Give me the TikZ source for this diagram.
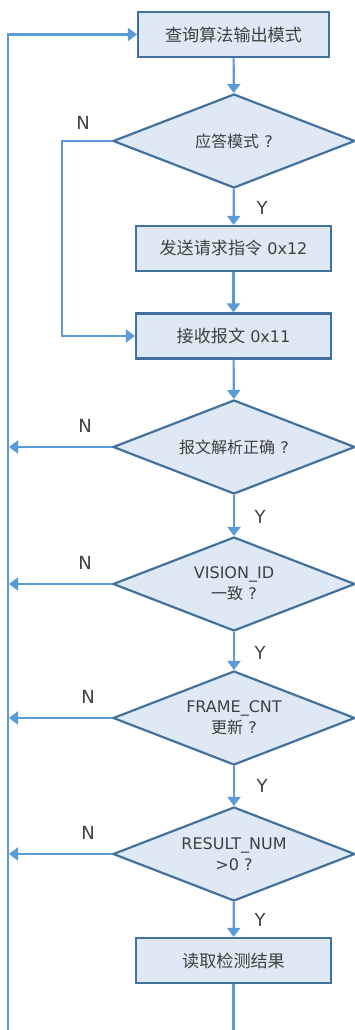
\documentclass[tikz,border=0pt]{standalone}
\usepackage{fontspec}
\setmainfont{DejaVu Sans}
\newfontfamily\cjk{Noto Sans CJK SC}
\newfontfamily\cjkb[Scale=1.07]{Noto Sans CJK SC}
\usetikzlibrary{shapes.geometric,arrows.meta}
\definecolor{boxfill}{HTML}{DEE9F5}
\definecolor{boxline}{HTML}{41719C}
\definecolor{connc}{HTML}{5B9BD5}
\definecolor{txt}{HTML}{404040}
\begin{document}
\begin{tikzpicture}[x=1pt,y=-1pt,
 stepbox/.style={rectangle,draw=boxline,fill=boxfill,line width=2.2pt,minimum width=195pt,minimum height=45pt,inner sep=0pt,text=txt,font=\fontsize{16}{19}\selectfont},
 decision/.style={diamond,aspect=2.6,draw=boxline,fill=boxfill,line width=2.2pt,minimum width=242pt,minimum height=94pt,inner sep=0pt,text=txt,font=\fontsize{16}{21}\selectfont,align=center},
 conn/.style={draw=connc,line width=2.2pt,-{Triangle[width=13pt,length=9pt]}},
 plain/.style={draw=connc,line width=2.2pt},
 lbl/.style={text=txt,font=\fontsize{18}{20}\selectfont}]
\useasboundingbox (0,0) rectangle (355,1030);
\node[stepbox,minimum width=191pt] (b1) at (233.5,34.5) {\cjkb 查询算法输出模式};
\node[decision] (d1) at (234,141) {{\cjk 应答模式} ?};
\node[stepbox] (b2) at (233.5,248.5) {{\cjkb 发送请求指令} 0x12};
\node[stepbox] (b3) at (233.5,336) {{\cjkb 接收报文} 0x11};
\node[decision] (d2) at (234,447) {{\cjk 报文解析正确} ?};
\node[decision] (d3) at (234,584) {VISION\_ID\\{\cjk 一致} ?};
\node[decision] (d4) at (234,718) {FRAME\_CNT\\{\cjk 更新} ?};
\node[decision] (d5) at (234,854) {RESULT\_NUM\\>0 ?};
\node[stepbox] (b4) at (233.5,960.5) {\cjkb 读取检测结果};
% labels
\node[lbl] (n1) at (83,123) {N};
\node[lbl] (n2) at (85,426) {N};
\node[lbl] (n3) at (85,563) {N};
\node[lbl] (n4) at (88,697) {N};
\node[lbl] (n5) at (88,833) {N};
\node[lbl] (y1) at (262,208) {Y};
\node[lbl] (y2) at (260,517) {Y};
\node[lbl] (y3) at (260,653) {Y};
\node[lbl] (y4) at (262,786) {Y};
\node[lbl] (y5) at (260,920) {Y};
% coordinates
\coordinate (nl) at (62,141);
\coordinate (lft) at (8,1032);
\coordinate (bot) at (233.5,1032);
% connectors
\draw[conn] (b1) -- (d1);
\draw[conn] (d1) -- (b2);
\draw[conn] (b2) -- (b3);
\draw[conn] (b3) -- (d2);
\draw[conn] (d2) -- (d3);
\draw[conn] (d3) -- (d4);
\draw[conn] (d4) -- (d5);
\draw[conn] (d5) -- (b4);
\draw[plain] (b4) -- (bot);
\draw[conn] (d1.west) -- (nl) |- (b3.west);
\draw[conn,shorten >=1pt] (d2.west) -- (d2.west -| lft);
\draw[conn,shorten >=1pt] (d3.west) -- (d3.west -| lft);
\draw[conn,shorten >=1pt] (d4.west) -- (d4.west -| lft);
\draw[conn,shorten >=1pt] (d5.west) -- (d5.west -| lft);
\draw[conn] (lft) |- (b1.west);
\end{tikzpicture}
\end{document}
